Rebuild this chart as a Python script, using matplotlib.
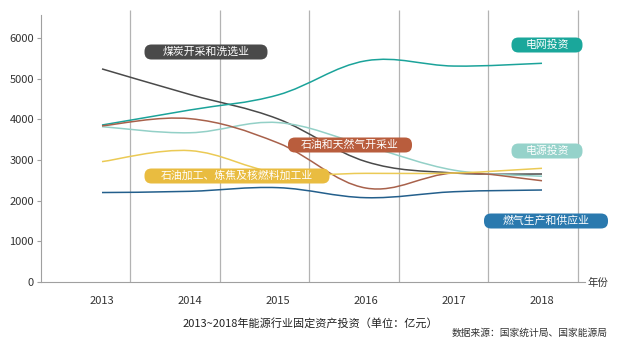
import matplotlib
matplotlib.use('Agg')
import matplotlib.pyplot as plt
import numpy as np
from matplotlib.path import Path
from matplotlib.patches import PathPatch, FancyBboxPatch

plt.rcParams['font.family'] = ['Noto Sans CJK SC', 'DejaVu Sans']

# Data (亿元)
years = [2013, 2014, 2015, 2016, 2017, 2018]
coal = [5240, 4610, 4010, 2960, 2680, 2656]
grid = [3860, 4230, 4600, 5440, 5310, 5378]
power = [3820, 3670, 3920, 3350, 2750, 2600]
oil_gas = [3840, 4016, 3420, 2310, 2680, 2490]
refining = [2960, 3230, 2680, 2672, 2680, 2796]
gas_supply = [2200, 2230, 2320, 2073, 2220, 2262]

series = [
    (coal, '#4a4a4a'),
    (grid, '#1ba39a'),
    (power, '#93d0c7'),
    (oil_gas, '#a8614b'),
    (refining, '#ebca55'),
    (gas_supply, '#235f8c'),
]

# label boxes: text, center x/y (px), width (px), colour
labels = [
    ('煤炭开采和洗选业', 206, 52, 123, '#4a4a4a'),
    ('电网投资', 547, 45, 71, '#1aa79b'),
    ('石油和天然气开采业', 350, 145, 124, '#b95d3d'),
    ('电源投资', 547, 151, 71, '#95d2ca'),
    ('石油加工、炼焦及核燃料加工业', 237, 176, 185, '#e9bc40'),
    ('燃气生产和供应业', 546, 221, 124, '#2a79ae'),
]


def smooth_path(xs, ys, t=0.18):
    # bezier path through every point (catmull-rom style control points)
    pts = np.column_stack([xs, ys]).astype(float)
    n = len(pts)
    verts = [pts[0]]
    codes = [Path.MOVETO]
    for i in range(n - 1):
        p0 = pts[i - 1] if i > 0 else pts[i]
        p1 = pts[i]
        p2 = pts[i + 1]
        p3 = pts[i + 2] if i + 2 < n else pts[i + 1]
        c1 = p1 + (p2 - p0) * t
        c2 = p2 - (p3 - p1) * t
        verts += [c1, c2, p2]
        codes += [Path.CURVE4] * 3
    return Path(verts, codes)


fig = plt.figure(figsize=(6.2, 3.4), dpi=100)
ax = fig.add_axes([41 / 620, (340 - 282) / 340, (585 - 41) / 620, (282 - 10) / 340])

ax.set_xlim(2013 + (41 - 102) / 88, 2013 + (585 - 102) / 88)
ax.set_ylim(0, 6000 / 244 * 272)

grid_x = 2013.32 + np.arange(6) * 1.018
ax.vlines(grid_x, 0, 1, transform=ax.get_xaxis_transform(), colors='#b3b3b3', lw=0.9, zorder=1)

for vals, col in series:
    ax.add_patch(PathPatch(smooth_path(years, vals), facecolor='none', edgecolor=col, lw=1.1, zorder=3))

for s in ['top', 'right']:
    ax.spines[s].set_visible(False)
ax.spines['left'].set_color('#a0a0a0')
ax.spines['bottom'].set_color('#a0a0a0')
ax.spines['left'].set_bounds(0, 6560)

ax.set_yticks([0, 1000, 2000, 3000, 4000, 5000, 6000])
ax.set_xticks(years)
ax.set_xticklabels([str(y) for y in years])
ax.tick_params(axis='y', length=3, color='#a0a0a0', labelsize=8, labelcolor='#333333', pad=2)
ax.tick_params(axis='x', length=0, labelsize=8, labelcolor='#333333', pad=10)

# overlay in pixel units for the label boxes and notes
ov = fig.add_axes([0, 0, 1, 1])
ov.set_xlim(0, 620)
ov.set_ylim(340, 0)
ov.axis('off')
ov.patch.set_alpha(0)

for text, cx, cy, w, col in labels:
    h = 15
    ov.add_patch(FancyBboxPatch((cx - w / 2, cy - h / 2), w, h,
                                boxstyle='round,pad=0,rounding_size=7',
                                facecolor=col, edgecolor='none'))
    ov.text(cx, cy, text, color='white', fontsize=7.8, ha='center', va='center')

ov.text(588, 283, '年份', fontsize=7.5, color='#333333', ha='left', va='center')
ov.text(310, 323, '2013~2018年能源行业固定资产投资（单位：亿元）', fontsize=8,
        color='#222222', ha='center', va='center')
ov.text(608, 333, '数据来源：国家统计局、国家能源局', fontsize=7, color='#333333',
        ha='right', va='center')

fig.savefig('out.png', dpi=100)
